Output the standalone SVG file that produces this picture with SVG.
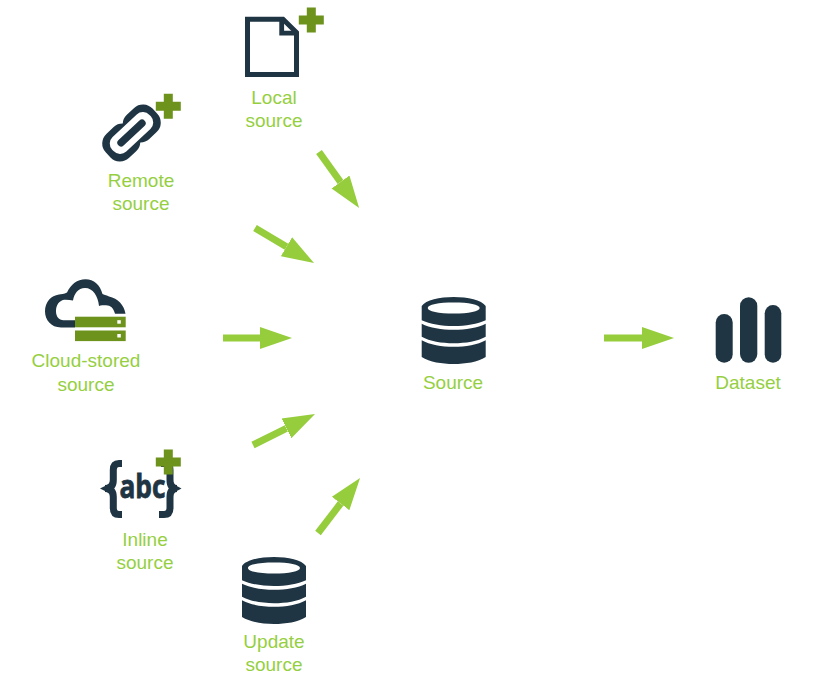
<svg xmlns="http://www.w3.org/2000/svg" xmlns:xlink="http://www.w3.org/1999/xlink" width="825" height="676" viewBox="0 0 825 676">
  <style>
    .lbl { font-family: "Liberation Sans", Arial, sans-serif; font-size: 19px; fill: #95cf3f; text-anchor: middle; }
    .dark { fill: #1f3543; }
    .plus { fill: #6d931c; }
    .flow { stroke: #95cd3c; stroke-width: 7; fill: none; marker-end: url(#head); }
    .brace { fill: none; stroke: #1f3543; stroke-width: 7; }
  </style>
  <defs>
    <marker id="head" markerUnits="userSpaceOnUse" markerWidth="34" markerHeight="24" refX="0" refY="12" orient="auto">
      <path d="M0,1 L32,12 L0,23 Z" fill="#95cd3c"/>
    </marker>
    <path id="cross" d="M-4.500,-12.500 H4.500 V-4.500 H12.500 V4.500 H4.500 V12.500 H-4.500 V4.500 H-12.500 V-4.500 H-4.500 Z"/>
    <g id="db">
      <path fill-rule="evenodd" d="M0,9 C4,3 18,0 32,0 C46,0 60,3 64,9 V23.200 C56,27 44,29 32,29 C20,29 8,27 0,23.200 Z M6,11 C6,14.500 17,16.500 32,16.500 C47,16.500 58,14.500 58,11 C58,7.500 47,5.500 32,5.500 C17,5.500 6,7.500 6,11 Z"/>
      <path d="M0,26.700 C8,30.700 20,32.800 32,32.800 C44,32.800 56,30.700 64,26.700 V39.700 C56,44.200 44,46.200 32,46.200 C20,46.200 8,44.200 0,39.700 Z"/>
      <path d="M0,43.200 C8,47.700 20,49.800 32,49.800 C44,49.800 56,47.700 64,43.200 V60 C56,65 44,67 32,67 C20,67 8,65 0,60 Z"/>
    </g>
  </defs>

  <g id="connectors">
    <line class="flow" x1="319" y1="152" x2="340.500" y2="182"/>
    <line class="flow" x1="255" y1="228" x2="286.500" y2="246.700"/>
    <line class="flow" x1="223" y1="338" x2="260" y2="338"/>
    <line class="flow" x1="253" y1="445" x2="286.400" y2="428.300"/>
    <line class="flow" x1="318" y1="533" x2="340.600" y2="503.500"/>
    <line class="flow" x1="604" y1="338" x2="642" y2="338"/>
  </g>

  <g id="local-source">
    <path d="M247.500,19.200 H283 L296.500,32.500 V74.500 H247.500 Z" fill="none" stroke="#1f3543" stroke-width="5"/>
    <path d="M281.700,18 V33.200 H298" fill="none" stroke="#1f3543" stroke-width="4.800"/>
    <use href="#cross" class="plus" x="311.300" y="20"/>
    <text class="lbl" x="274" y="104">Local</text>
    <text class="lbl" x="274" y="127">source</text>
  </g>

  <g id="remote-source">
    <g transform="translate(131.500,133) rotate(-43)">
      <rect class="dark" x="-32" y="-16.500" width="36" height="33" rx="13"/>
      <rect class="dark" x="-4" y="-16.500" width="36" height="33" rx="13"/>
      <rect x="-25.500" y="-10" width="51" height="20" rx="9" fill="#fff"/>
      <rect class="dark" x="-18" y="-3.700" width="36" height="7.400" rx="3.700"/>
    </g>
    <use href="#cross" class="plus" x="168.300" y="106.300"/>
    <text class="lbl" x="141" y="187">Remote</text>
    <text class="lbl" x="141" y="210">source</text>
  </g>

  <g id="cloud-stored-source">
    <path class="dark" d="M75,327.500 H61 C51,327.500 45,320 45,311.300 C45,302 51,295.500 59,294.500 C61,294 64,294 67,292.500 C71,284.500 77,279.300 85.500,279.300 C94,279.300 100,285 102.500,294 C105,295 107,295.500 109,296.500 C118,298.500 124,305 125.500,313.700 H115 C113.500,308 110.500,305.300 106,305.300 C103,305.300 101,305.300 99,306 C98,296 93,288 85,288 C78,288 74,294 73,300.500 C70,300 67,299.500 64,299.800 C59,301 56,305 56,311.300 C56,316.500 59,320.300 63.500,320.300 H75 Z"/>
    <rect class="plus" x="75" y="316.700" width="50.700" height="10.600"/>
    <rect class="plus" x="75" y="330.500" width="50.700" height="10.600"/>
    <rect x="117.300" y="320.200" width="3.500" height="3.500" fill="#fff"/>
    <rect x="117.300" y="334" width="3.500" height="3.500" fill="#fff"/>
    <text class="lbl" x="86" y="367">Cloud-stored</text>
    <text class="lbl" x="86" y="391">source</text>
  </g>

  <g id="inline-source">
    <path class="brace" d="M122,463.500 H119 Q113.300,463.500 113.300,470 V480 Q113.300,488.500 105,488.500 Q113.300,488.500 113.300,497 V508 Q113.300,514.500 119,514.500 H122"/>
    <path class="dark" d="M100,488.500 L108,484.500 V492.500 Z"/>
    <path class="brace" d="M161,463.500 H164 Q170,463.500 170,470 V480 Q170,488.500 177,488.500 Q170,488.500 170,497 V508 Q170,514.500 164,514.500 H159"/>
    <path class="dark" d="M181.500,488.500 L174,484.500 V492.500 Z"/>
    <text x="142.500" y="498.300" text-anchor="middle" textLength="46" lengthAdjust="spacingAndGlyphs" font-family="'Open Sans', Arial, sans-serif" font-weight="700" font-size="32" fill="#1f3543" stroke="#1f3543" stroke-width="0.800">abc</text>
    <use href="#cross" class="plus" x="168.300" y="462"/>
    <text class="lbl" x="145" y="546">Inline</text>
    <text class="lbl" x="145" y="569">source</text>
  </g>

  <g id="update-source">
    <use href="#db" class="dark" x="242" y="557"/>
    <text class="lbl" x="274" y="648">Update</text>
    <text class="lbl" x="274" y="671">source</text>
  </g>

  <g id="source">
    <use href="#db" class="dark" x="421.700" y="297"/>
    <text class="lbl" x="453" y="389">Source</text>
  </g>

  <g id="dataset">
    <rect class="dark" x="715.700" y="314" width="17" height="48.700" rx="8.500"/>
    <rect class="dark" x="740" y="297.300" width="17.300" height="65.400" rx="8.600"/>
    <rect class="dark" x="764.700" y="305" width="16.600" height="57.700" rx="8.300"/>
    <text class="lbl" x="748" y="389">Dataset</text>
  </g>
</svg>
